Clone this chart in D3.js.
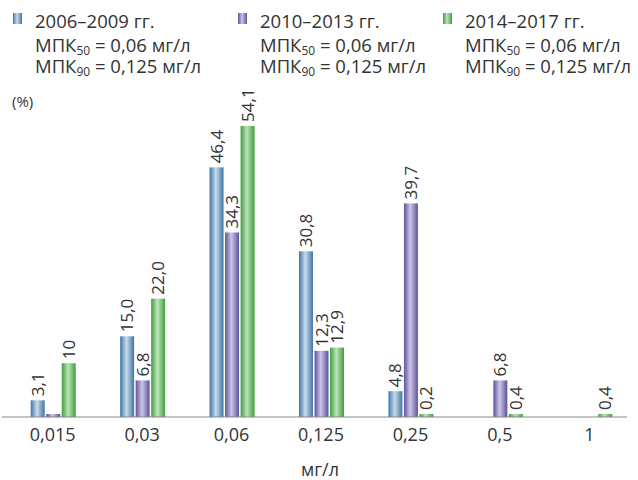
<!DOCTYPE html>
<html>
<head>
<meta charset="utf-8">
<script src="https://cdn.jsdelivr.net/npm/d3@7"></script>
<style>
  body { margin: 0; background: #fff; }
  svg { font-family: 'Open Sans', sans-serif; }
</style>
</head>
<body>
<main></main>
<script>
// data
const categories = ['0,015', '0,03', '0,06', '0,125', '0,25', '0,5', '1'];
const series = ['2006–2009 гг.', '2010–2013 гг.', '2014–2017 гг.'];
const values2006 = [3.1, 15.0, 46.4, 30.8, 4.8, 0, 0];
const values2010 = [0.4, 6.8, 34.3, 12.3, 39.7, 6.8, 0];
const values2014 = [10, 22.0, 54.1, 12.9, 0.2, 0.4, 0.4];
const labels2006 = ['3,1', '15,0', '46,4', '30,8', '4,8', null, null];
const labels2010 = [null, '6,8', '34,3', '12,3', '39,7', '6,8', null];
const labels2014 = ['10', '22,0', '54,1', '12,9', '0,2', '0,4', '0,4'];

const width = 638;
const height = 480;
const baseline = 417;
const minBar = 3; // keep tiny bars visible like in the original

const colors = [
  { edge: '#3f74a6', mid: '#c9dcec' },
  { edge: '#5c529e', mid: '#cdc6e4' },
  { edge: '#3f9e3f', mid: '#bfe4b8' }
];

const svg = d3.select('main')
  .append('svg')
  .attr('width', width)
  .attr('height', height);

// gradients for the bars
const defs = svg.append('defs');
colors.forEach((c, i) => {
  const g = defs.append('linearGradient')
    .attr('id', 'grad' + i)
    .attr('x1', '0%').attr('x2', '100%')
    .attr('y1', '0%').attr('y2', '0%');
  g.append('stop').attr('offset', '0%').attr('stop-color', c.edge);
  g.append('stop').attr('offset', '45%').attr('stop-color', c.mid);
  g.append('stop').attr('offset', '100%').attr('stop-color', c.edge);
});

const xScale = d3.scaleBand()
  .domain(categories)
  .range([8, 634]);

const xInner = d3.scaleBand()
  .domain(series)
  .range([-22, 23])
  .paddingInner(0.1);

const yScale = d3.scaleLinear()
  .domain([0, 60])
  .range([baseline, baseline - 60 * 5.38]);

const allValues = [values2006, values2010, values2014];
const allLabels = [labels2006, labels2010, labels2014];

const rows = [];
series.forEach((s, si) => {
  categories.forEach((c, ci) => {
    rows.push({ s, si, c, v: allValues[si][ci], label: allLabels[si][ci] });
  });
});

const barTop = d => Math.min(yScale(d.v), baseline - minBar);

// bars
svg.append('g')
  .selectAll('rect')
  .data(rows.filter(d => d.v > 0))
  .enter()
  .append('rect')
  .attr('x', d => xScale(d.c) + xScale.bandwidth() / 2 + xInner(d.s))
  .attr('y', barTop)
  .attr('width', xInner.bandwidth())
  .attr('height', d => baseline - barTop(d))
  .attr('fill', d => `url(#grad${d.si})`);

// value labels, rotated
svg.append('g')
  .selectAll('text')
  .data(rows.filter(d => d.label))
  .enter()
  .append('text')
  .text(d => d.label)
  .attr('transform', d => {
    const x = xScale(d.c) + xScale.bandwidth() / 2 + xInner(d.s) + xInner.bandwidth() / 2 + 6;
    const y = barTop(d) - 4;
    return `translate(${x}, ${y}) rotate(-90)`;
  })
  .attr('font-size', 17)
  .attr('fill', '#333');

// x axis
const xAxis = d3.axisBottom(xScale).tickSize(0).tickPadding(11);
const axisG = svg.append('g')
  .attr('transform', `translate(0, ${baseline})`)
  .call(xAxis);
axisG.select('.domain').attr('stroke', '#888').attr('d', 'M2,0H627');
axisG.selectAll('text')
  .attr('font-size', 18)
  .attr('font-family', "'Open Sans', sans-serif")
  .attr('fill', '#333');

svg.append('text')
  .text('мг/л')
  .attr('x', 320)
  .attr('y', 476)
  .attr('text-anchor', 'middle')
  .attr('font-size', 18)
  .attr('fill', '#333');

svg.append('text')
  .text('(%)')
  .attr('x', 12)
  .attr('y', 107)
  .attr('font-size', 15)
  .attr('fill', '#333');

// legend
const legendX = [13, 238, 443];
series.forEach((s, i) => {
  const g = svg.append('g').attr('transform', `translate(${legendX[i]}, 0)`);
  g.append('rect')
    .attr('x', 0).attr('y', 13)
    .attr('width', 9).attr('height', 11)
    .attr('fill', `url(#grad${i})`);
  g.append('text')
    .text(s)
    .attr('x', 22).attr('y', 28)
    .attr('font-size', 18.5)
    .attr('fill', '#333');
  const l1 = g.append('text').attr('x', 22).attr('y', 52).attr('font-size', 18.5).attr('fill', '#333');
  l1.append('tspan').text('МПК');
  l1.append('tspan').text('50').attr('font-size', 12).attr('dy', 3);
  l1.append('tspan').text(' = 0,06 мг/л').attr('dy', -3);
  const l2 = g.append('text').attr('x', 22).attr('y', 73).attr('font-size', 18.5).attr('fill', '#333');
  l2.append('tspan').text('МПК');
  l2.append('tspan').text('90').attr('font-size', 12).attr('dy', 3);
  l2.append('tspan').text(' = 0,125 мг/л').attr('dy', -3);
});
</script>
</body>
</html>
